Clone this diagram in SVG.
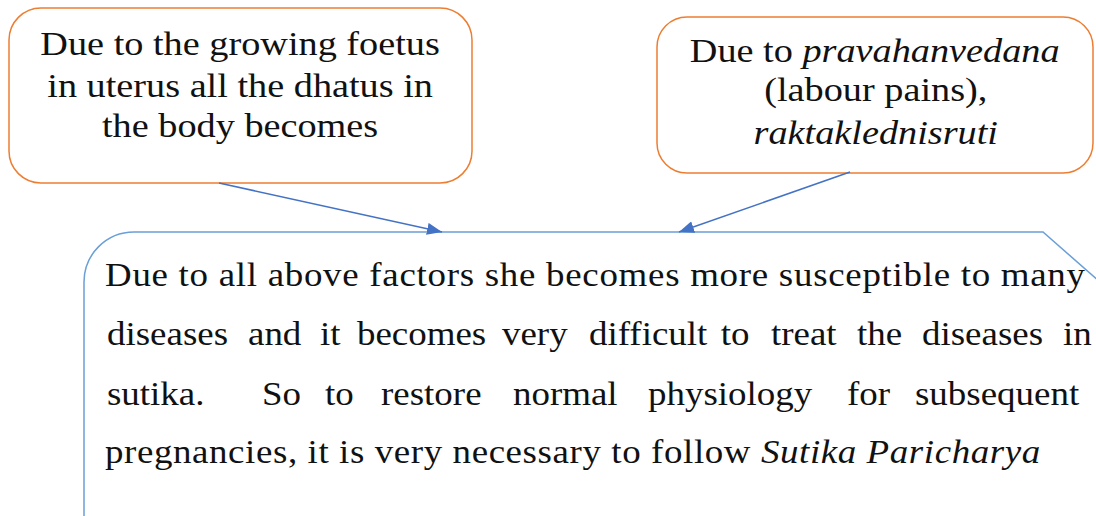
<svg xmlns="http://www.w3.org/2000/svg" width="1096" height="516" viewBox="0 0 1096 516">
<style>
.box{fill:#ffffff;stroke:#ed7d31;stroke-width:1.5}
.big{fill:#ffffff;stroke:#6a9fd8;stroke-width:1.5}
.t{font-family:"Liberation Serif","Times New Roman",serif;font-size:33px;fill:#111}
.c{text-anchor:middle}
.i{font-style:italic}
.conn{stroke:#4472c4;stroke-width:1.5;fill:none}
</style>
<defs>
<marker id="ah" markerUnits="userSpaceOnUse" markerWidth="16" markerHeight="12" refX="15" refY="6" orient="auto">
<path d="M0,0 L15,6 L0,12 Z" fill="#4472c4"/>
</marker>
</defs>
<rect width="1096" height="516" fill="#ffffff"/>
<g id="main">
<path class="big" d="M84,520 L84,282 A50,50 0 0 1 134,232 L1043,232 L1100,282"/>
<g transform="scale(1.12,1)">
<text class="t" x="93.75" y="286" textLength="875" lengthAdjust="spacing">Due to all above factors she becomes more susceptible to many</text>
<text class="t" y="345"><tspan x="95.54">diseases</tspan><tspan x="221.43">and</tspan><tspan x="285.71">it</tspan><tspan x="318.75">becomes</tspan><tspan x="448.21">very</tspan><tspan x="525.9">difficult</tspan><tspan x="643.5">to</tspan><tspan x="688.4">treat</tspan><tspan x="765.18">the</tspan><tspan x="823.21">diseases</tspan><tspan x="949.11">in</tspan></text>
<text class="t" y="405"><tspan x="95.54">sutika.</tspan><tspan x="233.93">So</tspan><tspan x="290.2">to</tspan><tspan x="340.2">restore</tspan><tspan x="458.04">normal</tspan><tspan x="578.57">physiology</tspan><tspan x="756.25">for</tspan><tspan x="816.96">subsequent</tspan></text>
<text class="t" x="93.75" y="463" textLength="835" lengthAdjust="spacing">pregnancies, it is very necessary to follow <tspan class="i">Sutika Paricharya</tspan></text>
</g>
</g>
<g id="box1">
<rect class="box" x="9" y="8" width="463" height="175" rx="32" ry="32"/>
<g transform="scale(1.16,1)">
<text class="t c" x="207" y="55">Due to the growing foetus</text>
<text class="t c" x="207" y="97">in uterus all the dhatus in</text>
<text class="t c" x="207" y="137">the body becomes</text>
</g>
</g>
<g id="box2">
<rect class="box" x="657" y="17" width="436" height="156" rx="30" ry="30"/>
<g transform="scale(1.16,1)">
<text class="t c" x="754" y="62">Due to <tspan class="i">pravahanvedana</tspan></text>
<text class="t c" x="755" y="101">(labour pains),</text>
<text class="t c i" x="755" y="144">raktaklednisruti</text>
</g>
</g>
<g id="connectors">
<line class="conn" x1="219" y1="183" x2="442" y2="232" marker-end="url(#ah)"/>
<line class="conn" x1="850" y1="172" x2="679" y2="232" marker-end="url(#ah)"/>
</g>
</svg>
